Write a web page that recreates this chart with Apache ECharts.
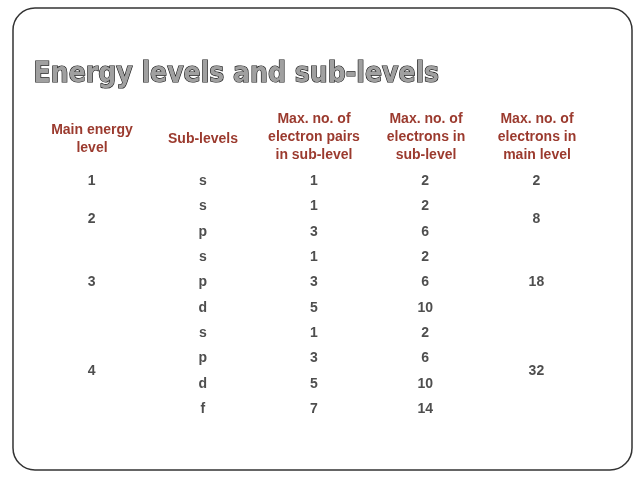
<!DOCTYPE html>
<html>
<head>
<meta charset="UTF-8"/>
<title>Energy levels</title>
<style>html,body{margin:0;background:#fff;}</style>
<script src="https://cdn.jsdelivr.net/npm/echarts@6/dist/echarts.min.js"></script>
</head>
<body>
<div id="container" style="width:638px;height:479px;"></div>
<script>
var columns = ['Main energy\nlevel', 'Sub-levels', 'Max. no. of\nelectron pairs\nin sub-level', 'Max. no. of\nelectrons in\nsub-level', 'Max. no. of\nelectrons in\nmain level'];
var mainLevels = [1, 2, 3, 4];
var mainRows = [0, 1.5, 4, 7.5];
var subLevels = ['s', 's', 'p', 's', 'p', 'd', 's', 'p', 'd', 'f'];
var pairs = [1, 1, 3, 1, 3, 5, 1, 3, 5, 7];
var electronsSub = [2, 2, 6, 2, 6, 10, 2, 6, 10, 14];
var electronsMain = [2, 8, 18, 32];

var data = [];
mainLevels.forEach(function (v, i) { data.push([0, mainRows[i], v]); });
subLevels.forEach(function (v, i) {
  data.push([1, i, v]);
  data.push([2, i, pairs[i]]);
  data.push([3, i, electronsSub[i]]);
});
electronsMain.forEach(function (v, i) { data.push([4, mainRows[i], v]); });

var chart = echarts.init(document.getElementById('container'));
var headerFont = {fill: '#9b3a2e', font: 'bold 14px "Liberation Sans", Arial', align: 'center', verticalAlign: 'middle', lineHeight: 18};
var graphics = [
  {type: 'rect', shape: {x: 13, y: 8, width: 619, height: 462, r: 22}, style: {fill: 'none', stroke: '#333', lineWidth: 1.5}},
  {type: 'text', left: 33, top: 60, style: {text: 'Energy levels and sub-levels', fill: '#a0a0a0', stroke: '#111', lineWidth: 1.2,
    font: 'bold 28px "DejaVu Sans Condensed"', shadowColor: 'rgba(0,0,0,0.6)', shadowOffsetX: 2, shadowOffsetY: 2, shadowBlur: 1}}
];
var centers = [92, 203, 314, 426, 537];
columns.forEach(function (c, i) {
  graphics.push({type: 'text', x: centers[i], y: i < 2 ? 139 : 137,
    style: Object.assign({text: c}, headerFont)});
});

chart.setOption({
  animation: false,
  grid: {left: 36, right: 46, top: 181, bottom: 70},
  xAxis: {type: 'category', data: [0, 1, 2, 3, 4], show: false, boundaryGap: true},
  yAxis: {type: 'value', inverse: true, min: 0, max: 9, show: false},
  graphic: graphics,
  series: [{
    type: 'scatter', symbolSize: 0, data: data,
    label: {show: true, position: 'inside', formatter: function (p) { return p.value[2]; },
      color: '#222', fontSize: 14, fontWeight: 'bold', fontFamily: 'Liberation Sans'}
  }]
});
</script>
</body>
</html>
